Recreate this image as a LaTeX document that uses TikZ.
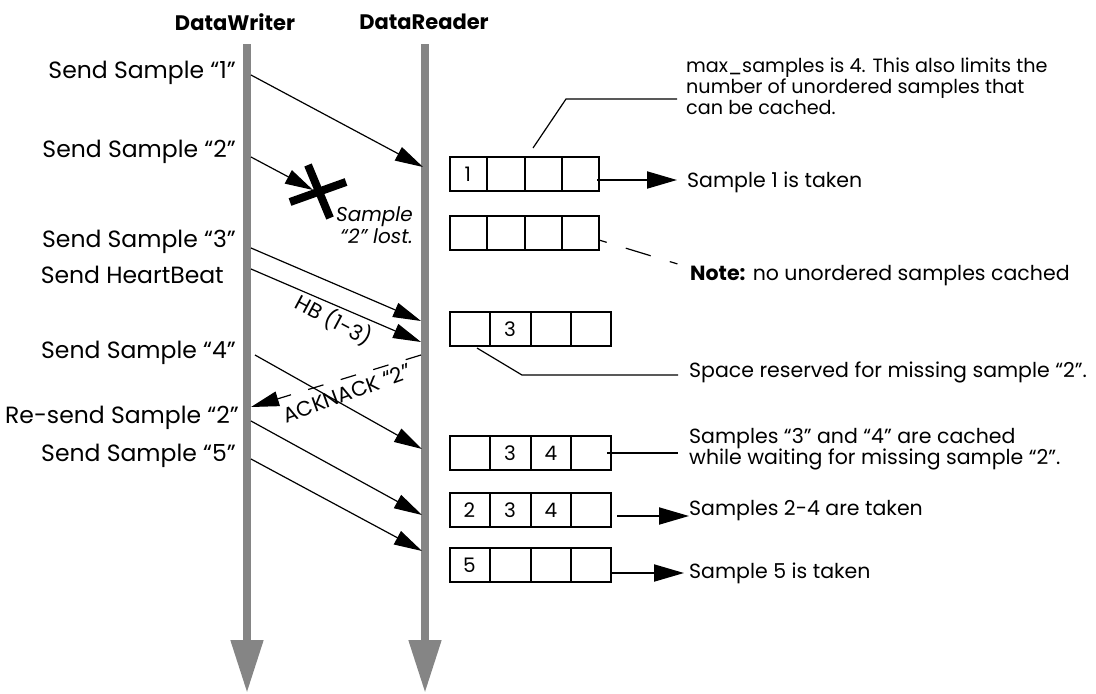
\documentclass[tikz,border=0pt]{standalone}
\usepackage{fontspec}
\setmainfont{Poppins}
\usepackage{tikz}
\usetikzlibrary{positioning,calc,shapes.multipart,arrows.meta}
\definecolor{lifegray}{rgb}{0.52,0.52,0.52}

\begin{document}
\begin{tikzpicture}[x=1pt,y=-1pt,
    lifeline/.style={draw=lifegray,line width=8pt,-{Triangle[length=53pt,width=31pt]}},
    msg/.style={draw,line width=1.2pt,-{Triangle[length=28pt,width=15pt]}},
    taken/.style={draw,line width=2pt,-{Triangle[length=30pt,width=17pt]}},
    leader/.style={draw,line width=1.2pt},
    title/.style={font=\fontsize{21}{24}\selectfont\bfseries,anchor=base,inner sep=0pt},
    sendlbl/.style={font=\fontsize{23.5}{25}\selectfont,anchor=base east,inner sep=0pt},
    note/.style={font=\fontsize{20.5}{21}\selectfont,anchor=base west,inner sep=0pt,align=left},
    slant lbl/.style={font=\fontsize{21}{22}\selectfont,inner sep=0pt},
    buffer/.style={rectangle split,rectangle split horizontal,rectangle split parts=4,
        rectangle split ignore empty parts=false,draw,line width=2pt,outer sep=0pt,
        inner xsep=0pt,inner ysep=0pt,text height=24pt,text depth=10pt,align=center,
        font=\fontsize{20}{20}\selectfont,anchor=west,text width=#1},
    buffer/.default=38.75pt]
\useasboundingbox (0,0) rectangle (1096,694);

%Lifelines
    \node[title] (writer) at (235,30) {DataWriter};
    \node[title] (reader) at (424,29) {DataReader};
    \coordinate (wtop) at (247,44);
    \coordinate (wbot) at (247,693);
    \coordinate (rtop) at (425,44);
    \coordinate (rbot) at (425,693);
    \draw[lifeline] (wtop) -- (wbot);
    \draw[lifeline] (rtop) -- (rbot);

%Send labels
    \node[sendlbl] (send1) at (236,78) {Send Sample “1”};
    \node[sendlbl] (send2) at (236,157) {Send Sample “2”};
    \node[sendlbl] (send3) at (236,247) {Send Sample “3”};
    \node[sendlbl] (sendhb) at (224,283) {Send HeartBeat};
    \node[sendlbl] (send4) at (236,358) {Send Sample “4”};
    \node[sendlbl] (resend2) at (239,423) {Re-send Sample “2”};
    \node[sendlbl] (send5) at (236,461) {Send Sample “5”};

%Message ends
    \coordinate (s1w) at (251,75);   \coordinate (s1r) at (423,167);
    \coordinate (s2w) at (251,157);  \coordinate (lostx) at (313,190);
    \coordinate (s3w) at (251,248);  \coordinate (s3r) at (421,321);
    \coordinate (hbw) at (251,269);  \coordinate (hbr) at (421,342);
    \coordinate (s4w) at (255,355);  \coordinate (s4r) at (422,449);
    \coordinate (ackr) at (421,355); \coordinate (ackw) at (251,407);
    \coordinate (rs2w) at (251,421); \coordinate (rs2r) at (422,515);
    \coordinate (s5w) at (251,459);  \coordinate (s5r) at (422,551);

    \draw[msg] (s1w) -- (s1r);
    \draw[msg] (s2w) -- (lostx);
    \draw[msg] (s3w) -- (s3r);
    \draw[msg] (hbw) -- (hbr);
    \draw[msg] (s4w) -- (s4r);
    \draw[msg,dash pattern=on 16pt off 18pt] (ackr) -- (ackw);
    \draw[msg] (rs2w) -- (rs2r);
    \draw[msg] (s5w) -- (s5r);

%Lost sample
    \draw[line width=8pt] (290,202) -- (346,182);
    \draw[line width=8pt] (308,165) -- (330,218);
    \node[font=\fontsize{20}{22}\selectfont\itshape,align=right,anchor=north east,inner sep=0pt]
        (lost) at (413,206) {Sample\\“2” lost.};
    \node[slant lbl,rotate=-28] (hblbl) at (334,320) {HB (1-3)};
    \node[slant lbl,rotate=20] (acklbl) at (347,393) {ACKNACK “2”};

%Buffers
    \node[buffer=35.75pt] (b1) at (450,174) {1\nodepart{two}\nodepart{three}\nodepart{four}};
    \node[buffer=35.75pt] (b2) at (450,233) {\nodepart{two}\nodepart{three}\nodepart{four}};
    \node[buffer] (b3) at (450,329) {\nodepart{two}3\nodepart{three}\nodepart{four}};
    \node[buffer] (b4) at (450,453) {\nodepart{two}3\nodepart{three}4\nodepart{four}};
    \node[buffer] (b5) at (450,510) {2\nodepart{two}3\nodepart{three}4\nodepart{four}};
    \node[buffer] (b6) at (450,565) {5\nodepart{two}\nodepart{three}\nodepart{four}};

%Notes
    \node[note,font=\fontsize{19.2}{21}\selectfont,anchor=north west] (maxnote) at (686,58)
        {max\_samples is 4. This also limits the\\number of unordered samples that\\can be cached.};
    \node[note] (takenone) at (687,187) {Sample 1 is taken};
    \node[note] (nonote) at (690,280) {\textbf{Note:} no unordered samples cached};
    \node[note] (spacenote) at (689,377) {Space reserved for missing sample “2”.};
    \node[note,anchor=north west] (cachenote) at (689,428)
        {Samples “3” and “4” are cached\\while waiting for missing sample “2”.};
    \node[note] (takentwo) at (689,515) {Samples 2-4 are taken};
    \node[note] (takenfive) at (689,578) {Sample 5 is taken};

%Leaders
    \coordinate (maxa) at (533,148); \coordinate (maxb) at (566,99); \coordinate (maxc) at (677,99);
    \draw[leader] (maxa) -- (maxb) -- (maxc);
    \coordinate (t1a) at (597,180); \coordinate (t1b) at (677,180);
    \draw[taken] (t1a) -- (t1b);
    \coordinate (noa) at (599,240); \coordinate (nob) at (681,265);
    \draw[leader,dash pattern=on 8pt off 20pt on 26pt off 20pt] (noa) -- (nob);
    \coordinate (spa) at (477,348); \coordinate (spb) at (522,375); \coordinate (spc) at (678,375);
    \draw[leader] (spa) -- (spb) -- (spc);
    \coordinate (ca) at (607,453); \coordinate (cb) at (678,453);
    \draw[leader,line width=2pt] (ca) -- (cb);
    \coordinate (t2a) at (617,516); \coordinate (t2b) at (689,516);
    \draw[taken] (t2a) -- (t2b);
    \coordinate (t5a) at (612,573); \coordinate (t5b) at (684,573);
    \draw[taken] (t5a) -- (t5b);
\end{tikzpicture}
\end{document}
